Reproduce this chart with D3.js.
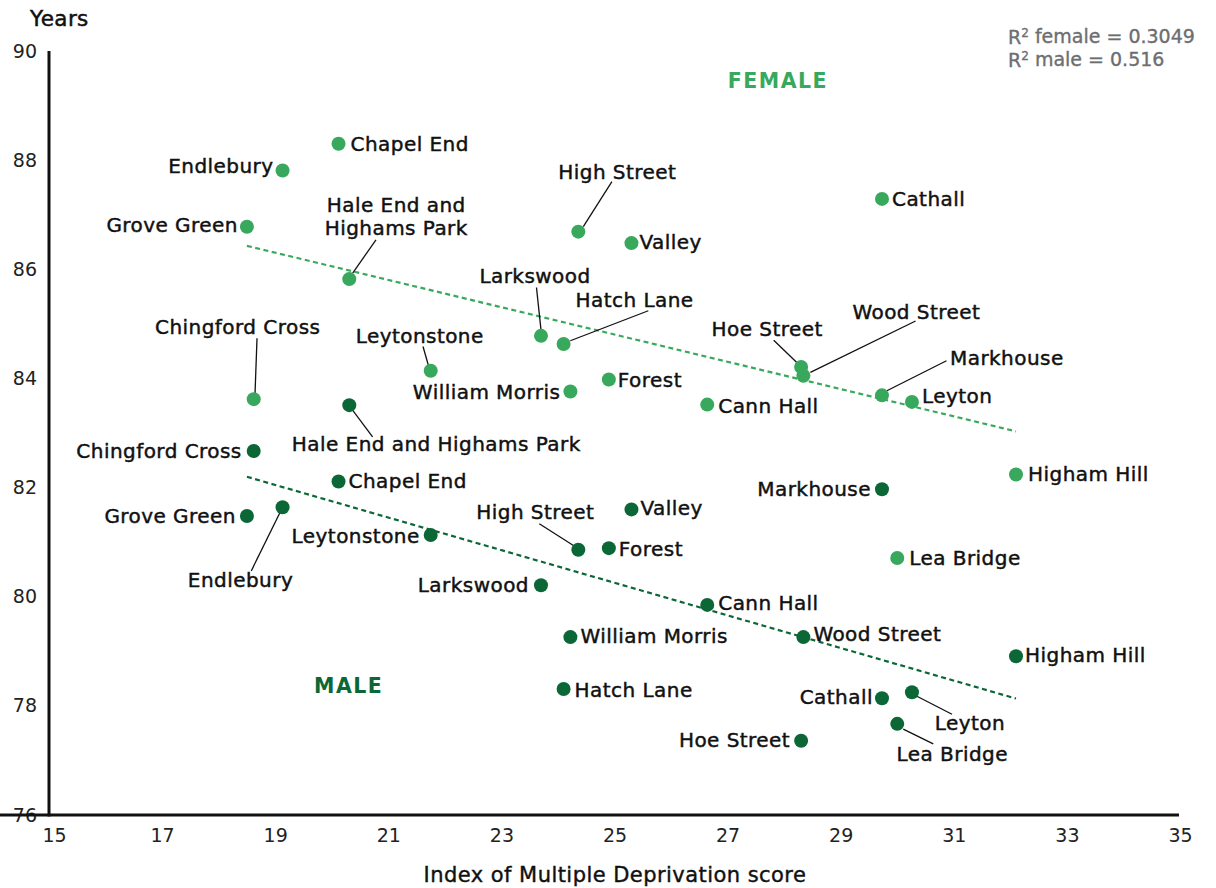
<!DOCTYPE html>
<html>
<head>
<meta charset="utf-8">
<script src="https://cdn.jsdelivr.net/npm/d3@7"></script>
<style>
  html, body { margin: 0; padding: 0; background: #fff; }
  svg { display: block; font-family: "DejaVu Sans", sans-serif; }
</style>
</head>
<body>
<svg id="chart" width="1216" height="888"></svg>
<script>
// ---------- DATA ----------
const wards = ["Chingford Cross","Grove Green","Endlebury","Chapel End","Hale End and Highams Park","Leytonstone","Larkswood","Hatch Lane","William Morris","High Street","Forest","Valley","Cann Hall","Hoe Street","Wood Street","Markhouse","Cathall","Lea Bridge","Leyton","Higham Hill"];
const imdScore = [18.62,18.5,19.13,20.12,20.31,21.75,23.7,24.1,24.22,24.36,24.9,25.3,26.64,28.3,28.34,29.73,29.73,30.0,30.26,32.1];
const femaleLE = [83.62,86.78,87.81,88.30,85.82,84.14,84.78,84.63,83.76,86.69,83.98,86.48,83.52,84.21,84.05,83.69,87.29,80.71,83.57,82.24];
const maleLE   = [82.67,81.48,81.64,82.11,83.51,81.13,80.21,78.31,79.26,80.86,80.89,81.60,79.85,77.36,79.26,81.97,78.14,77.67,78.25,78.91];
const xTicks = [15,17,19,21,23,25,27,29,31,33,35];
const yTicks = [76,78,80,82,84,86,88,90];
const rSquared = [["female","0.3049"],["male","0.516"]];

// ---------- LAYOUT (label placement, px offsets from the dot) ----------
// [anchor, dx, dy, leader(x1,y1,x2,y2) or null]
const femaleLabels = {
  "Chingford Cross": ["middle",-16,-72,[1.3,-5.3,3.3,-61]],
  "Grove Green": ["end",-9,-2,null],
  "Endlebury": ["end",-9,-5,null],
  "Chapel End": ["start",12,0,null],
  "Hale End and Highams Park": ["middle",47,-74,[3.4,-6,26.7,-39.3]],
  "Leytonstone": ["middle",-11,-35,[-2,-4.3,-7.7,-24.3]],
  "Larkswood": ["middle",-6,-60,[0,-6,-4.5,-48.4]],
  "Hatch Lane": ["middle",71,-44,[6.7,-3.3,84.7,-33.3]],
  "William Morris": ["end",-10,0,null],
  "High Street": ["middle",39,-60,[5,-5,33.6,-50]],
  "Forest": ["start",9,0,null],
  "Valley": ["start",8,-1,null],
  "Cann Hall": ["start",11,1,null],
  "Hoe Street": ["middle",-34,-38,[-3.8,-4,-27.4,-26.7]],
  "Wood Street": ["middle",113,-64,[7,-3.4,112.2,-54.7]],
  "Markhouse": ["start",68,-37,[4.9,-4.6,64.5,-34.6]],
  "Cathall": ["start",10,0,null],
  "Lea Bridge": ["start",12,0,null],
  "Leyton": ["start",10,-6,null],
  "Higham Hill": ["start",12,0,null]
};
const maleLabels = {
  "Chingford Cross": ["end",-12,0,null],
  "Grove Green": ["end",-11,0,null],
  "Endlebury": ["middle",-42,73,[-2.3,4.7,-31.3,63.7]],
  "Chapel End": ["start",10,-1,null],
  "Hale End and Highams Park": ["middle",87,39,[3.3,5,23.3,31.7]],
  "Leytonstone": ["end",-11,1,null],
  "Larkswood": ["end",-12,0,null],
  "Hatch Lane": ["start",11,1,null],
  "William Morris": ["start",10,-1,null],
  "High Street": ["middle",-43,-38,[-3.3,-3.3,-39,-26]],
  "Forest": ["start",10,1,null],
  "Valley": ["start",9,-1,null],
  "Cann Hall": ["start",11,-2,null],
  "Hoe Street": ["end",-11,-1,null],
  "Wood Street": ["start",10,-3,null],
  "Markhouse": ["end",-11,0,null],
  "Cathall": ["end",-9,-1,null],
  "Lea Bridge": ["middle",55,30,[6,5.3,36,20]],
  "Leyton": ["middle",58,31,[5,4,40,22]],
  "Higham Hill": ["start",9,-1,null]
};

const FEMALE_COL = "#38a85c";
const MALE_COL = "#0b6836";
const INK = "#111";

// ---------- CHART ----------
const svg = d3.select("#chart");
const x = d3.scaleLinear().domain([15,35]).range([49,1180]);
const y = d3.scaleLinear().domain([76,90]).range([815,51]);

// axes
const yAxis = svg.append("g").attr("transform","translate(49,0)")
  .call(d3.axisLeft(y).tickValues(yTicks).tickSize(0).tickSizeOuter(0).tickPadding(12).tickFormat(d3.format("d")));
const xAxis = svg.append("g").attr("transform","translate(0,815)")
  .call(d3.axisBottom(x).tickValues(xTicks).tickSize(0).tickSizeOuter(0).tickPadding(14).tickFormat(d3.format("d")));
[yAxis, xAxis].forEach(g => {
  g.select(".domain").attr("stroke",INK).attr("stroke-width",3);
  g.selectAll("text").attr("font-family","DejaVu Sans").attr("font-size",19).attr("fill","#222");
});
yAxis.select(".domain").attr("d","M0,51V816.5");
xAxis.select(".domain").attr("d","M-1.5,0H1179");
xAxis.selectAll(".tick text").attr("dx", d => d === 15 ? 5 : 0);

// axis titles
svg.append("text").attr("x",30).attr("y",18).attr("dy","0.35em")
  .attr("font-size",21.5).attr("letter-spacing",0.4).attr("fill",INK)
  .attr("stroke",INK).attr("stroke-width",0.5).text("Years");
svg.append("text").attr("x",615).attr("y",875).attr("dy","0.35em").attr("text-anchor","middle")
  .attr("font-size",21).attr("letter-spacing",0.45).attr("fill",INK)
  .attr("stroke",INK).attr("stroke-width",0.4).text("Index of Multiple Deprivation score");

// R-squared notes
rSquared.forEach((r,i) => {
  const t = svg.append("text").attr("x",1008).attr("y",37 + i*23).attr("dy","0.35em")
    .attr("font-size",19).attr("fill","#6d6e70").attr("stroke","#6d6e70").attr("stroke-width",0.35);
  t.append("tspan").text("R");
  t.append("tspan").attr("font-size",12).attr("dy","-0.55em").text("2");
  t.append("tspan").attr("dy","0.33em").text(" " + r[0] + " = " + r[1]);
});

// regression lines computed from the data
function regress(xs, ys) {
  const mx = d3.mean(xs), my = d3.mean(ys);
  let sxy = 0, sxx = 0;
  xs.forEach((v,i) => { sxy += (v-mx)*(ys[i]-my); sxx += (v-mx)*(v-mx); });
  const b = sxy/sxx, a = my - b*mx;
  const x0 = d3.min(xs), x1 = d3.max(xs);
  return [[x0, a+b*x0],[x1, a+b*x1]];
}
const line = d3.line().x(d => x(d[0])).y(d => y(d[1]));
[[femaleLE, FEMALE_COL],[maleLE, MALE_COL]].forEach(([ys,col]) => {
  svg.append("path").attr("d", line(regress(imdScore, ys)))
    .attr("fill","none").attr("stroke",col).attr("stroke-width",2.2).attr("stroke-dasharray","5,3.5");
});

// series labels
svg.append("text").attr("x",x(27.89)).attr("y",y(89.45)).attr("dy","0.35em").attr("text-anchor","middle")
  .attr("font-size",20.5).attr("font-weight","bold").attr("letter-spacing",1.5).attr("fill",FEMALE_COL).text("FEMALE");
svg.append("text").attr("x",x(20.3)).attr("y",y(78.36)).attr("dy","0.35em").attr("text-anchor","middle")
  .attr("font-size",20.5).attr("font-weight","bold").attr("letter-spacing",1.5).attr("fill",MALE_COL).text("MALE");

// points + labels
function drawSeries(values, col, layout, splitHaleEnd) {
  const data = wards.map((w,i) => ({ward:w, x:imdScore[i], y:values[i]}));
  const g = svg.append("g");
  data.forEach(d => {
    const px = x(d.x), py = y(d.y);
    const L = layout[d.ward];
    if (L[3]) {
      g.append("line").attr("x1",px+L[3][0]).attr("y1",py+L[3][1]).attr("x2",px+L[3][2]).attr("y2",py+L[3][3])
        .attr("stroke",INK).attr("stroke-width",1.3);
    }
  });
  g.selectAll("circle").data(data).join("circle")
    .attr("cx",d => x(d.x)).attr("cy",d => y(d.y)).attr("r",7).attr("fill",col);
  data.forEach(d => {
    const px = x(d.x), py = y(d.y);
    const L = layout[d.ward];
    const t = g.append("text").attr("text-anchor",L[0]).attr("font-size",20).attr("letter-spacing",0.45)
      .attr("fill",INK).attr("stroke",INK).attr("stroke-width",0.45);
    if (splitHaleEnd && d.ward === "Hale End and Highams Park") {
      t.append("tspan").attr("x",px+L[1]).attr("y",py+L[2]).attr("dy","0.35em").text("Hale End and");
      t.append("tspan").attr("x",px+L[1]).attr("y",py+L[2]+23).attr("dy","0.35em").text("Highams Park");
    } else {
      t.attr("x",px+L[1]).attr("y",py+L[2]).attr("dy","0.35em").text(d.ward);
    }
  });
}
drawSeries(femaleLE, FEMALE_COL, femaleLabels, true);
drawSeries(maleLE, MALE_COL, maleLabels, false);
</script>
</body>
</html>
